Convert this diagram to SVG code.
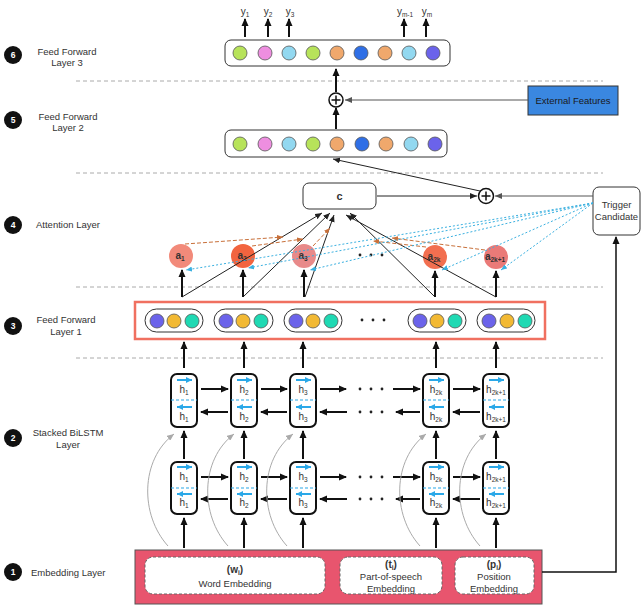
<svg xmlns="http://www.w3.org/2000/svg" width="642" height="613" viewBox="0 0 642 613">
<style>
text{font-family:"Liberation Sans",Arial,sans-serif;fill:#333}
.lbl{font-size:9.5px;text-anchor:middle}
.num{font-size:8.5px;font-weight:bold;fill:#fff;text-anchor:middle}
.dash{stroke:#aaa;stroke-width:1;stroke-dasharray:4,3;fill:none}
.thick{stroke:#111;stroke-width:2;fill:none;marker-end:url(#ah)}
.thin{stroke:#222;stroke-width:1;fill:none;marker-end:url(#ahs)}
.gray{stroke:#555;stroke-width:1;fill:none;marker-end:url(#ahg)}
.curve{stroke:#aaa;stroke-width:1;fill:none;marker-end:url(#ahc)}
.blued{stroke:#3ab0e0;stroke-width:1;stroke-dasharray:2,2;fill:none;marker-end:url(#ahb)}
.orad{stroke:#c8703a;stroke-width:1;stroke-dasharray:4,2;fill:none;marker-end:url(#aho)}
.cell{fill:#fff;stroke:#111;stroke-width:2}
.ba{stroke:#2aa8e8;stroke-width:2;fill:none;marker-end:url(#ahbl)}
.bd{stroke:#2aa8e8;stroke-width:1.2;stroke-dasharray:3,2}
.h{font-size:10px;text-anchor:middle}
.dot{fill:#222}
.c{stroke:#555;stroke-width:0.8}
.pill{fill:#fff;stroke:#333;stroke-width:1}
.att{font-size:10px;font-weight:bold;text-anchor:middle;fill:#333}
.emb{fill:#fff;stroke:#666;stroke-width:1;stroke-dasharray:3,2}
.et{font-size:9.5px;text-anchor:middle}
</style>
<defs>
<marker id="ah" markerUnits="userSpaceOnUse" markerWidth="8" markerHeight="8" refX="7" refY="4" orient="auto"><path d="M0,0.5 L8,4 L0,7.5 z" fill="#111"/></marker>
<marker id="ahs" markerUnits="userSpaceOnUse" markerWidth="7" markerHeight="6" refX="7" refY="3" orient="auto"><path d="M0,0 L7,3 L0,6 z" fill="#222"/></marker>
<marker id="ahg" markerUnits="userSpaceOnUse" markerWidth="7" markerHeight="6" refX="7" refY="3" orient="auto"><path d="M0,0 L7,3 L0,6 z" fill="#555"/></marker>
<marker id="ahc" markerUnits="userSpaceOnUse" markerWidth="7" markerHeight="6" refX="7" refY="3" orient="auto"><path d="M0,0 L7,3 L0,6 z" fill="#aaa"/></marker>
<marker id="ahb" markerUnits="userSpaceOnUse" markerWidth="6" markerHeight="5" refX="6" refY="2.5" orient="auto"><path d="M0,0 L6,2.5 L0,5 z" fill="#3ab0e0"/></marker>
<marker id="aho" markerUnits="userSpaceOnUse" markerWidth="6" markerHeight="5" refX="6" refY="2.5" orient="auto"><path d="M0,0 L6,2.5 L0,5 z" fill="#c8703a"/></marker>
<marker id="ahbl" markerUnits="userSpaceOnUse" markerWidth="6" markerHeight="6" refX="6" refY="3" orient="auto"><path d="M0,0 L6,3 L0,6 z" fill="#2aa8e8"/></marker>
</defs>
<rect width="642" height="613" fill="#fff"/>

<g id="labels">
<circle cx="13" cy="55" r="9" fill="#111"/><text class="num" x="13" y="58">6</text>
<text class="lbl" x="67" y="54.5">Feed Forward</text><text class="lbl" x="67" y="66">Layer 3</text>
<circle cx="13" cy="120" r="9" fill="#111"/><text class="num" x="13" y="123">5</text>
<text class="lbl" x="68" y="119.5">Feed Forward</text><text class="lbl" x="68" y="131">Layer 2</text>
<circle cx="13" cy="225" r="9" fill="#111"/><text class="num" x="13" y="228">4</text>
<text class="lbl" x="36" y="228" style="text-anchor:start">Attention Layer</text>
<circle cx="13" cy="326" r="9" fill="#111"/><text class="num" x="13" y="329">3</text>
<text class="lbl" x="66" y="323">Feed Forward</text><text class="lbl" x="66" y="335">Layer 1</text>
<circle cx="13" cy="438" r="9" fill="#111"/><text class="num" x="13" y="441">2</text>
<text class="lbl" x="68" y="436">Stacked BiLSTM</text><text class="lbl" x="68" y="448">Layer</text>
<circle cx="13" cy="572" r="9" fill="#111"/><text class="num" x="13" y="575">1</text>
<text class="lbl" x="31" y="576" style="text-anchor:start">Embedding Layer</text>
</g>

<g id="separators">
<line class="dash" x1="76" y1="81" x2="603" y2="81"/>
<line class="dash" x1="76" y1="173" x2="603" y2="173"/>
<line class="dash" x1="76" y1="287" x2="603" y2="287"/>
<line class="dash" x1="76" y1="358" x2="603" y2="358"/>
</g>

<g id="ff3">
<rect x="225" y="40" width="225" height="26" rx="6" fill="#fff" stroke="#333" stroke-width="1"/>
<circle class="c" cx="240" cy="53" r="7" fill="#b7e35a"/>
<circle class="c" cx="265" cy="53" r="7" fill="#ee8ee0"/>
<circle class="c" cx="289" cy="53" r="7" fill="#92d8f0"/>
<circle class="c" cx="313" cy="53" r="7" fill="#b7e35a"/>
<circle class="c" cx="337" cy="53" r="7" fill="#f0a86c"/>
<circle class="c" cx="361" cy="53" r="7" fill="#2f6fe6"/>
<circle class="c" cx="385" cy="53" r="7" fill="#f0a86c"/>
<circle class="c" cx="409" cy="53" r="7" fill="#92d8f0"/>
<circle class="c" cx="433" cy="53" r="7" fill="#6b63ea"/>
</g>
<g id="outputs">
<text class="h" x="245" y="15">y<tspan dy="2" font-size="6.5">1</tspan></text>
<text class="h" x="268" y="15">y<tspan dy="2" font-size="6.5">2</tspan></text>
<text class="h" x="290" y="15">y<tspan dy="2" font-size="6.5">3</tspan></text>
<text class="h" x="405" y="15">y<tspan dy="2" font-size="6.5">m-1</tspan></text>
<text class="h" x="427" y="15">y<tspan dy="2" font-size="6.5">m</tspan></text>
</g>

<g id="plus1">
<circle cx="336" cy="100" r="7" fill="#fff" stroke="#111" stroke-width="1.5"/>
<path d="M331.5,100 H340.5 M336,95.5 V104.5" stroke="#111" stroke-width="1.5"/>
</g>
<g id="plus2">
<circle cx="486" cy="196" r="7.5" fill="#fff" stroke="#111" stroke-width="1.5"/>
<path d="M481.5,196 H490.5 M486,191.5 V200.5" stroke="#111" stroke-width="1.5"/>
</g>

<g id="external">
<rect x="528" y="86" width="90" height="29" fill="#3a87e0" stroke="#333" stroke-width="1"/>
<text x="573" y="104" font-size="9.5" text-anchor="middle" style="fill:#1a1a1a">External Features</text>
</g>

<g id="ff2">
<rect x="225" y="130" width="222" height="27" rx="6" fill="#fff" stroke="#333" stroke-width="1"/>
<circle class="c" cx="240" cy="144" r="7" fill="#b7e35a"/>
<circle class="c" cx="265" cy="144" r="7" fill="#ee8ee0"/>
<circle class="c" cx="289" cy="144" r="7" fill="#92d8f0"/>
<circle class="c" cx="313" cy="144" r="7" fill="#b7e35a"/>
<circle class="c" cx="337" cy="144" r="7" fill="#f0a86c"/>
<circle class="c" cx="362" cy="144" r="7" fill="#2f6fe6"/>
<circle class="c" cx="386" cy="144" r="7" fill="#f0a86c"/>
<circle class="c" cx="411" cy="144" r="7" fill="#92d8f0"/>
<circle class="c" cx="435" cy="144" r="7" fill="#6b63ea"/>
</g>

<g id="context">
<rect x="303" y="183" width="73" height="26" rx="6" fill="#fff" stroke="#333" stroke-width="1"/>
<text x="339.5" y="200" font-size="11" font-weight="bold" text-anchor="middle">c</text>
</g>

<g id="trigger">
<rect x="593" y="187" width="47" height="48" rx="6" fill="#fff" stroke="#333" stroke-width="1"/>
<text class="et" x="616.5" y="208">Trigger</text>
<text class="et" x="616.5" y="220">Candidate</text>
</g>

<g id="attention">
<circle cx="181" cy="256" r="12" fill="#f28a7a"/>
<text class="att" x="180" y="259">a<tspan dy="2" font-size="6.5">1</tspan></text>
<circle cx="243" cy="256" r="12" fill="#f2643f"/>
<text class="att" x="242" y="259">a<tspan dy="2" font-size="6.5">2</tspan></text>
<circle cx="304" cy="256" r="12" fill="#e88a8a"/>
<text class="att" x="303" y="259">a<tspan dy="2" font-size="6.5">3</tspan></text>
<circle cx="435" cy="257" r="12" fill="#f26f50"/>
<text class="att" x="434" y="260">a<tspan dy="2" font-size="6.5">2k</tspan></text>
<circle cx="496" cy="257" r="12" fill="#ea7a78"/>
<text class="att" x="495" y="260">a<tspan dy="2" font-size="6.5">2k+1</tspan></text>
<circle class="dot" cx="360" cy="255" r="1.4"/><circle class="dot" cx="371" cy="255" r="1.4"/><circle class="dot" cx="382" cy="255" r="1.4"/>
</g>

<g id="ff1">
<rect x="135" y="302" width="410" height="37" fill="#fff" stroke="#f07060" stroke-width="2.5"/>
<rect class="pill" x="145" y="309" width="58" height="23" rx="11.5"/>
<circle class="c" cx="157" cy="321" r="7" fill="#6b63ea"/><circle class="c" cx="174" cy="321" r="7" fill="#f2b933"/><circle class="c" cx="192" cy="321" r="7" fill="#1fd9b3"/>
<rect class="pill" x="214" y="309" width="59" height="23" rx="11.5"/>
<circle class="c" cx="226" cy="321" r="7" fill="#6b63ea"/><circle class="c" cx="243" cy="321" r="7" fill="#f2b933"/><circle class="c" cx="261" cy="321" r="7" fill="#1fd9b3"/>
<rect class="pill" x="284" y="309" width="58" height="23" rx="11.5"/>
<circle class="c" cx="296" cy="321" r="7" fill="#6b63ea"/><circle class="c" cx="313" cy="321" r="7" fill="#f2b933"/><circle class="c" cx="331" cy="321" r="7" fill="#1fd9b3"/>
<circle class="dot" cx="362" cy="320" r="1.4"/><circle class="dot" cx="373" cy="320" r="1.4"/><circle class="dot" cx="384" cy="320" r="1.4"/>
<rect class="pill" x="408" y="309" width="58" height="23" rx="11.5"/>
<circle class="c" cx="420" cy="321" r="7" fill="#6b63ea"/><circle class="c" cx="437" cy="321" r="7" fill="#f2b933"/><circle class="c" cx="455" cy="321" r="7" fill="#1fd9b3"/>
<rect class="pill" x="477" y="309" width="58" height="23" rx="11.5"/>
<circle class="c" cx="489" cy="321" r="7" fill="#6b63ea"/><circle class="c" cx="507" cy="321" r="7" fill="#f2b933"/><circle class="c" cx="525" cy="321" r="7" fill="#1fd9b3"/>
</g>

<g id="lstm-top">
<g id="t1"><rect class="cell" x="171" y="374" width="26" height="53" rx="6"/>
<line class="ba" x1="177" y1="380" x2="192" y2="380"/><text class="h" x="184" y="393">h<tspan dy="2" font-size="6.5">1</tspan></text>
<line class="bd" x1="171" y1="400" x2="197" y2="400"/><line class="ba" x1="192" y1="407" x2="177" y2="407"/>
<text class="h" x="184" y="420">h<tspan dy="2" font-size="6.5">1</tspan></text></g>
<g id="t2"><rect class="cell" x="231" y="374" width="26" height="53" rx="6"/>
<line class="ba" x1="237" y1="380" x2="252" y2="380"/><text class="h" x="244" y="393">h<tspan dy="2" font-size="6.5">2</tspan></text>
<line class="bd" x1="231" y1="400" x2="257" y2="400"/><line class="ba" x1="252" y1="407" x2="237" y2="407"/>
<text class="h" x="244" y="420">h<tspan dy="2" font-size="6.5">2</tspan></text></g>
<g id="t3"><rect class="cell" x="290" y="374" width="26" height="53" rx="6"/>
<line class="ba" x1="296" y1="380" x2="311" y2="380"/><text class="h" x="303" y="393">h<tspan dy="2" font-size="6.5">3</tspan></text>
<line class="bd" x1="290" y1="400" x2="316" y2="400"/><line class="ba" x1="311" y1="407" x2="296" y2="407"/>
<text class="h" x="303" y="420">h<tspan dy="2" font-size="6.5">3</tspan></text></g>
<g id="t2k"><rect class="cell" x="423" y="374" width="26" height="53" rx="6"/>
<line class="ba" x1="429" y1="380" x2="444" y2="380"/><text class="h" x="436" y="393">h<tspan dy="2" font-size="6.5">2k</tspan></text>
<line class="bd" x1="423" y1="400" x2="449" y2="400"/><line class="ba" x1="444" y1="407" x2="429" y2="407"/>
<text class="h" x="436" y="420">h<tspan dy="2" font-size="6.5">2k</tspan></text></g>
<g id="t2k1"><rect class="cell" x="483" y="374" width="26" height="53" rx="6"/>
<line class="ba" x1="489" y1="380" x2="504" y2="380"/><text class="h" x="496" y="393">h<tspan dy="2" font-size="6.5">2k+1</tspan></text>
<line class="bd" x1="483" y1="400" x2="509" y2="400"/><line class="ba" x1="504" y1="407" x2="489" y2="407"/>
<text class="h" x="496" y="420">h<tspan dy="2" font-size="6.5">2k+1</tspan></text></g>
<circle class="dot" cx="360" cy="389" r="1.4"/><circle class="dot" cx="371" cy="389" r="1.4"/><circle class="dot" cx="382" cy="389" r="1.4"/>
<circle class="dot" cx="360" cy="412" r="1.4"/><circle class="dot" cx="371" cy="412" r="1.4"/><circle class="dot" cx="382" cy="412" r="1.4"/>
</g>

<g id="lstm-bottom">
<g id="b1"><rect class="cell" x="171" y="462" width="26" height="52" rx="6"/>
<line class="ba" x1="177" y1="467" x2="192" y2="467"/><text class="h" x="184" y="480">h<tspan dy="2" font-size="6.5">1</tspan></text>
<line class="bd" x1="171" y1="488" x2="197" y2="488"/><line class="ba" x1="192" y1="494" x2="177" y2="494"/>
<text class="h" x="184" y="506">h<tspan dy="2" font-size="6.5">1</tspan></text></g>
<g id="b2"><rect class="cell" x="231" y="462" width="26" height="52" rx="6"/>
<line class="ba" x1="237" y1="467" x2="252" y2="467"/><text class="h" x="244" y="480">h<tspan dy="2" font-size="6.5">2</tspan></text>
<line class="bd" x1="231" y1="488" x2="257" y2="488"/><line class="ba" x1="252" y1="494" x2="237" y2="494"/>
<text class="h" x="244" y="506">h<tspan dy="2" font-size="6.5">2</tspan></text></g>
<g id="b3"><rect class="cell" x="290" y="462" width="26" height="52" rx="6"/>
<line class="ba" x1="296" y1="467" x2="311" y2="467"/><text class="h" x="303" y="480">h<tspan dy="2" font-size="6.5">3</tspan></text>
<line class="bd" x1="290" y1="488" x2="316" y2="488"/><line class="ba" x1="311" y1="494" x2="296" y2="494"/>
<text class="h" x="303" y="506">h<tspan dy="2" font-size="6.5">3</tspan></text></g>
<g id="b2k"><rect class="cell" x="423" y="462" width="26" height="52" rx="6"/>
<line class="ba" x1="429" y1="467" x2="444" y2="467"/><text class="h" x="436" y="480">h<tspan dy="2" font-size="6.5">2k</tspan></text>
<line class="bd" x1="423" y1="488" x2="449" y2="488"/><line class="ba" x1="444" y1="494" x2="429" y2="494"/>
<text class="h" x="436" y="506">h<tspan dy="2" font-size="6.5">2k</tspan></text></g>
<g id="b2k1"><rect class="cell" x="483" y="462" width="26" height="52" rx="6"/>
<line class="ba" x1="489" y1="467" x2="504" y2="467"/><text class="h" x="496" y="480">h<tspan dy="2" font-size="6.5">2k+1</tspan></text>
<line class="bd" x1="483" y1="488" x2="509" y2="488"/><line class="ba" x1="504" y1="494" x2="489" y2="494"/>
<text class="h" x="496" y="506">h<tspan dy="2" font-size="6.5">2k+1</tspan></text></g>
<circle class="dot" cx="360" cy="477" r="1.4"/><circle class="dot" cx="371" cy="477" r="1.4"/><circle class="dot" cx="382" cy="477" r="1.4"/>
<circle class="dot" cx="360" cy="499" r="1.4"/><circle class="dot" cx="371" cy="499" r="1.4"/><circle class="dot" cx="382" cy="499" r="1.4"/>
</g>

<g id="embedding">
<rect x="135" y="550" width="407" height="54" fill="#e8556e" stroke="#555" stroke-width="1"/>
<rect class="emb" x="145" y="557" width="180" height="37" rx="8"/>
<text class="et" x="235" y="573" font-weight="bold" style="font-size:10px">(w<tspan dy="2" font-size="6.5">i</tspan><tspan dy="-2">)</tspan></text>
<text class="et" x="235" y="587">Word Embedding</text>
<rect class="emb" x="340" y="557" width="102" height="37" rx="8"/>
<text class="et" x="391" y="568" font-weight="bold" style="font-size:10px">(t<tspan dy="2" font-size="6.5">i</tspan><tspan dy="-2">)</tspan></text>
<text class="et" x="391" y="580">Part-of-speech</text>
<text class="et" x="391" y="592">Embedding</text>
<rect class="emb" x="455" y="557" width="79" height="37" rx="8"/>
<text class="et" x="494" y="568" font-weight="bold" style="font-size:10px">(p<tspan dy="2" font-size="6.5">i</tspan><tspan dy="-2">)</tspan></text>
<text class="et" x="494" y="580">Position</text>
<text class="et" x="494" y="592">Embedding</text>
</g>

<g id="connectors">
<line class="thick" x1="245" y1="37" x2="245" y2="19"/>
<line class="thick" x1="268" y1="37" x2="268" y2="19"/>
<line class="thick" x1="289" y1="37" x2="289" y2="19"/>
<line class="thick" x1="404" y1="37" x2="404" y2="19"/>
<line class="thick" x1="426" y1="37" x2="426" y2="19"/>
<line class="thick" x1="336" y1="92" x2="336" y2="69"/>
<line class="thick" x1="336" y1="129" x2="336" y2="108"/>
<line class="gray" x1="528" y1="100" x2="345" y2="100"/>
<line class="thin" x1="480" y1="191" x2="333" y2="159"/>
<line class="thin" x1="377" y1="196" x2="477" y2="196"/>
<line class="gray" x1="593" y1="196" x2="495" y2="196"/>
<polyline points="542,572 616,572 616,237" fill="none" stroke="#111" stroke-width="1.5" marker-end="url(#ah)"/>
<line class="thin" x1="182" y1="297" x2="322" y2="213"/>
<line class="thin" x1="243" y1="297" x2="330" y2="213"/>
<line class="thin" x1="305" y1="297" x2="334" y2="215"/>
<line class="thin" x1="435" y1="297" x2="350" y2="213"/>
<line class="thin" x1="496" y1="297" x2="346" y2="215"/>
<line class="orad" x1="185" y1="244" x2="283" y2="237"/>
<line class="orad" x1="252" y1="246" x2="303" y2="239"/>
<line class="orad" x1="313" y1="246" x2="330" y2="228"/>
<line class="orad" x1="426" y1="247" x2="373" y2="241"/>
<line class="orad" x1="485" y1="250" x2="392" y2="238"/>
<line class="blued" x1="593" y1="203" x2="186" y2="270"/>
<line class="blued" x1="593" y1="203" x2="248" y2="268"/>
<line class="blued" x1="593" y1="203" x2="310" y2="270"/>
<line class="blued" x1="593" y1="203" x2="442" y2="270"/>
<line class="blued" x1="593" y1="203" x2="501" y2="270"/>
<line class="thick" x1="182" y1="297" x2="182" y2="270"/>
<line class="thick" x1="243" y1="297" x2="243" y2="270"/>
<line class="thick" x1="304" y1="297" x2="304" y2="270"/>
<line class="thick" x1="435" y1="297" x2="435" y2="271"/>
<line class="thick" x1="496" y1="297" x2="496" y2="271"/>
<line class="thick" x1="184" y1="368" x2="184" y2="342"/>
<line class="thick" x1="244" y1="368" x2="244" y2="342"/>
<line class="thick" x1="303" y1="368" x2="303" y2="342"/>
<line class="thick" x1="436" y1="368" x2="436" y2="342"/>
<line class="thick" x1="496" y1="368" x2="496" y2="342"/>
<line class="thick" x1="201" y1="389" x2="228" y2="389"/>
<line class="thick" x1="261" y1="389" x2="287" y2="389"/>
<line class="thick" x1="320" y1="389" x2="346" y2="389"/>
<line class="thick" x1="393" y1="389" x2="420" y2="389"/>
<line class="thick" x1="453" y1="389" x2="480" y2="389"/>
<line class="thick" x1="228" y1="412" x2="201" y2="412"/>
<line class="thick" x1="287" y1="412" x2="261" y2="412"/>
<line class="thick" x1="347" y1="412" x2="320" y2="412"/>
<line class="thick" x1="420" y1="412" x2="396" y2="412"/>
<line class="thick" x1="480" y1="412" x2="453" y2="412"/>
<line class="thick" x1="201" y1="477" x2="228" y2="477"/>
<line class="thick" x1="261" y1="477" x2="287" y2="477"/>
<line class="thick" x1="320" y1="477" x2="346" y2="477"/>
<line class="thick" x1="393" y1="477" x2="420" y2="477"/>
<line class="thick" x1="453" y1="477" x2="480" y2="477"/>
<line class="thick" x1="228" y1="499" x2="201" y2="499"/>
<line class="thick" x1="287" y1="499" x2="261" y2="499"/>
<line class="thick" x1="347" y1="499" x2="320" y2="499"/>
<line class="thick" x1="420" y1="499" x2="396" y2="499"/>
<line class="thick" x1="480" y1="499" x2="453" y2="499"/>
<line class="thick" x1="184" y1="459" x2="184" y2="431"/>
<line class="thick" x1="244" y1="459" x2="244" y2="431"/>
<line class="thick" x1="303" y1="459" x2="303" y2="431"/>
<line class="thick" x1="436" y1="459" x2="436" y2="431"/>
<line class="thick" x1="496" y1="459" x2="496" y2="431"/>
<line class="thick" x1="184" y1="548" x2="184" y2="518"/>
<line class="thick" x1="244" y1="548" x2="244" y2="518"/>
<line class="thick" x1="303" y1="548" x2="303" y2="518"/>
<line class="thick" x1="436" y1="548" x2="436" y2="518"/>
<line class="thick" x1="496" y1="548" x2="496" y2="518"/>
<path class="curve" d="M168,546 C140,515 140,460 174,434"/>
<path class="curve" d="M228,546 C200,515 200,460 234,434"/>
<path class="curve" d="M287,546 C259,515 259,460 293,434"/>
<path class="curve" d="M420,546 C392,515 392,460 426,434"/>
<path class="curve" d="M480,546 C452,515 452,460 486,434"/>
</g>
</svg>
